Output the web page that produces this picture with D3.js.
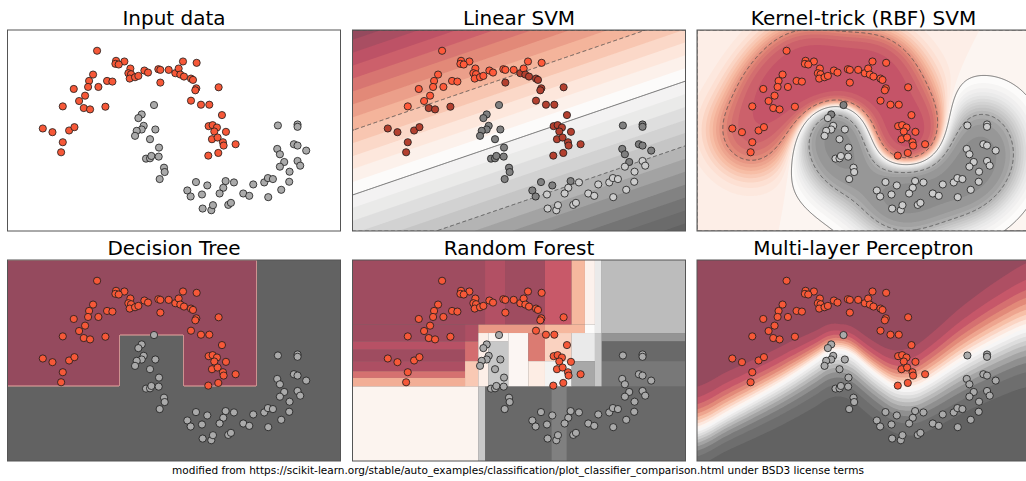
<!DOCTYPE html>
<html lang="en">
<head>
<meta charset="utf-8">
<title>Classifier comparison</title>
<script src="https://cdnjs.cloudflare.com/ajax/libs/d3/7.8.5/d3.min.js"></script>
<style>
body { margin: 0; background: #fff; }
text { font-family: "DejaVu Sans", sans-serif; }
</style>
</head>
<body>
<script>
// two moons, in plot units: x 0..100, y 0..60
var redX = [26.9,32.6,35.1,32.4,33.4,36.9,36.3,37.1,36.7,38.3,39.3,41.1,42.2,45.3,45.9,48.4,50.4,51.4,52.7,56.8,51.9,53.0,55.1,55.7,45.9,25.7,24.5,24.2,27.3,29.9,31.5,19.9,23.3,21.5,16.6,22.9,24.8,29.4,10.6,13.5,18.5,20.1,16.6,16.1,56.7,56.4,63.4,55.1,58.1,60.6,64.4,60.4,61.6,62.9,62.1,65.6,61.4,63.1,64.7,64.9,68.5,60.3,63.3];
var redY = [53.8,50.8,50.6,49.9,49.7,48.5,47.1,46.8,45.5,45.9,46.3,47.9,47.3,48.3,48.1,48.1,47.1,48.5,50.6,50.2,46.7,46.1,45.5,45.1,44.3,46.7,44.8,43.0,43.0,44.8,44.6,42.4,40.4,38.8,37.2,36.7,36.3,37.1,30.6,29.5,30.0,31.0,26.5,23.5,42.6,42.0,42.9,38.9,37.7,37.7,34.6,31.3,31.6,30.9,29.7,29.6,27.4,27.9,26.5,25.5,25.9,22.5,23.3];
var greyX = [44.0,40.3,39.3,40.9,40.3,38.8,38.3,44.4,42.8,45.5,41.6,42.8,43.2,45.4,47.0,47.2,45.7,56.6,60.0,54.0,55.0,58.4,65.5,68.0,64.8,63.7,58.6,61.2,61.7,66.3,67.1,70.8,72.6,73.8,77.1,78.2,79.7,78.3,82.2,84.6,84.7,83.1,81.8,81.0,81.8,87.1,87.9,86.0,87.1,89.7,81.2,87.1,87.1];
var greyY = [37.6,34.8,33.7,31.4,30.3,29.9,28.4,30.3,27.4,24.9,21.6,21.7,22.4,22.2,18.9,17.6,15.5,14.6,13.6,12.1,10.3,10.9,14.9,14.5,12.9,11.2,6.7,6.2,7.7,7.8,8.4,11.2,10.5,13.9,14.5,15.8,15.5,10.1,12.3,14.7,17.7,20.6,19.2,24.5,22.9,20.9,19.5,25.9,25.5,24.0,31.5,31.8,31.1];

var titles = ["Input data", "Linear SVM", "Kernel-trick (RBF) SVM", "Decision Tree", "Random Forest", "Multi-layer Perceptron"];
var footer = "modified from https://scikit-learn.org/stable/auto_examples/classification/plot_classifier_comparison.html under BSD3 license terms";

// colour map, 0 = grey class, 1 = red class
var cmapStops = [0, 0.1, 0.2, 0.3, 0.4, 0.5, 0.6, 0.7, 0.8, 0.9, 1];
var cmapColors = ["#626262", "#787878", "#a0a0a0", "#c8c8c8", "#e6e6e6", "#fcfbfa", "#fde3d6", "#f6b89e", "#e08575", "#c55468", "#954a5e"];

// linear svm: boundary y = a + b*x, margin half-width
var linA = 10.75, linB = 0.34, linMargin = 19.3;
// rbf svm
var rbfSigma = 7, rbfScale = 0.32, rbfBias = 0.1, rbfCapRed = 1.35, rbfCapGrey = 1.45;
var rbfColorExtent = [-1.91, 1.82];

// decision tree leaves predicted red [x0, x1, y0, y1]
var treeLeaves = [
  [0, 33.6, 22.3, 60],
  [33.6, 52.8, 37.7, 60],
  [52.8, 74.8, 22.3, 60]
];

// random forest, painted in order [x0, x1, y0, y1, p(red)]
var forestLeaves = [
  [0,100,0,60,0.03],
  [0,37.8,0,22.3,0.53],
  [37.8,39.8,0,22.3,0.3],
  [59.8,64.3,0,22.3,0.12],
  [0,39.8,40.7,60,0.98],
  [39.8,45.8,40.7,60,0.94],
  [45.8,57.8,40.7,60,0.98],
  [57.8,65.8,40.7,60,0.89],
  [65.8,69.8,40.7,60,0.7],
  [69.8,72.8,40.7,60,0.54],
  [72.8,74.8,38.2,60,0.42],
  [74.8,100,38.2,60,0.27],
  [74.8,100,35.7,38.2,0.17],
  [74.8,100,29.8,35.7,0.03],
  [74.8,100,22.3,29.8,0.1],
  [0,33.8,35.7,40.7,0.98],
  [0,33.8,33.2,35.7,0.93],
  [0,33.8,29.8,33.2,0.98],
  [0,33.8,26.8,29.8,0.95],
  [0,33.8,24.8,26.8,0.84],
  [0,33.8,22.3,24.8,0.72],
  [33.8,37.8,35.7,40.7,0.95],
  [33.8,37.8,29.8,35.7,0.85],
  [33.8,37.8,22.3,29.8,0.66],
  [37.8,57.8,38.2,40.7,0.76],
  [57.8,69.8,38.2,40.7,0.7],
  [69.8,72.8,38.2,40.7,0.5],
  [37.8,40.8,22.3,38.2,0.55],
  [40.8,46.8,22.3,35.7,0.3],
  [40.8,46.8,35.7,38.2,0.52],
  [46.8,52.8,22.3,38.2,0.52],
  [52.8,57.8,29.8,38.2,0.82],
  [52.8,57.8,22.3,29.8,0.56],
  [57.8,65.8,29.8,38.2,0.64],
  [57.8,65.8,22.3,29.8,0.46],
  [65.8,72.8,29.8,38.2,0.42],
  [65.8,72.8,22.3,29.8,0.22],
  [72.8,74.8,22.3,38.2,0.3]
];

// mlp: boundary curve and widths of the red / grey transition
var mlpKnotX = [0, 7.8, 17.8, 27.9, 35.9, 43, 49.9, 55.9, 62.5, 69.9, 78, 88, 100];
var mlpMidY = [8.6, 13.4, 18.8, 24.6, 30.2, 35.0, 29.0, 23.8, 20.2, 23.6, 29.3, 34.8, 40.5];
var mlpUpW = [13, 13, 12, 11, 9, 8, 9, 10, 12, 14, 16, 18, 20];
var mlpDownW = [11, 11, 12, 13, 14, 14, 14, 14, 14, 15, 16, 17, 18];

var W = 1026, H = 481;
var panelW = 333, panelH = 201;
var colX = [7.5, 352.5, 697];
var rowY = [30, 260];
var xDomain = [0, 100], yDomain = [0, 60];
var gridN = 333, gridM = 201;

var cmap = d3.scaleLinear().domain(cmapStops).range(cmapColors).clamp(true);

var svg = d3.select("body").append("svg").attr("width", W).attr("height", H);

var redPts = redX.map(function(x, i) { return {x: x, y: redY[i], c: 1}; });
var greyPts = greyX.map(function(x, i) { return {x: x, y: greyY[i], c: -1}; });
var allPts = redPts.concat(greyPts);

function makePanel(k) {
  var px = colX[k % 3], py = rowY[Math.floor(k / 3)];
  var xs = d3.scaleLinear().domain(xDomain).range([px, px + panelW]);
  var ys = d3.scaleLinear().domain(yDomain).range([py + panelH, py]);
  svg.append("clipPath").attr("id", "clip" + k)
    .append("rect").attr("x", px).attr("y", py).attr("width", panelW).attr("height", panelH);
  var g = svg.append("g").attr("clip-path", "url(#clip" + k + ")");
  return {g: g, xs: xs, ys: ys, px: px, py: py, k: k};
}

function sampleGrid(fn) {
  var values = new Float64Array(gridN * gridM);
  for (var j = 0; j < gridM; j++) {
    var y = yDomain[1] - (j + 0.5) / gridM * (yDomain[1] - yDomain[0]);
    for (var i = 0; i < gridN; i++) {
      var x = xDomain[0] + (i + 0.5) / gridN * (xDomain[1] - xDomain[0]);
      values[i + j * gridN] = fn(x, y);
    }
  }
  return values;
}

function gridPath(p) {
  return d3.geoPath(d3.geoTransform({
    point: function(x, y) {
      this.stream.point(
        p.xs(xDomain[0] + x / gridN * (xDomain[1] - xDomain[0])),
        p.ys(yDomain[1] - y / gridM * (yDomain[1] - yDomain[0])));
    }
  }));
}

function backRect(p, color) {
  p.g.append("rect")
    .attr("x", p.px).attr("y", p.py).attr("width", panelW).attr("height", panelH)
    .attr("fill", color);
}

// filled contours like contourf
function drawField(p, values, lo, hi, step, colorExtent) {
  var nb = Math.round((hi - lo) / step);
  var levels = d3.range(nb + 1).map(function(i) { return lo + i * step; });
  var mids = d3.range(nb).map(function(i) { return lo + (i + 0.5) * step; });
  var tScale = d3.scaleLinear().domain(colorExtent || [mids[0], mids[nb - 1]]).range([0, 1]);
  backRect(p, cmap(tScale(mids[0])));
  var cs = d3.contours().size([gridN, gridM]).thresholds(levels.slice(1, -1))(values);
  p.g.selectAll(null).data(cs).enter().append("path")
    .attr("d", gridPath(p))
    .attr("fill", function(d, i) { return cmap(tScale(mids[i + 1])); });
}

function drawDecisionField(p, values, colorExtent) {
  var ext = d3.extent(values);
  var step = d3.tickStep(ext[0], ext[1], 20);
  var lo = Math.floor(ext[0] / step) * step, hi = Math.ceil(ext[1] / step) * step;
  drawField(p, values, lo, hi, step, colorExtent);
  var ls = d3.contours().size([gridN, gridM]).thresholds([-1, 0, 1])(values);
  p.g.selectAll(null).data(ls).enter().append("path")
    .attr("d", gridPath(p))
    .attr("fill", "none")
    .attr("stroke", "#4a4a4a")
    .attr("stroke-opacity", 0.75)
    .attr("stroke-width", 1)
    .attr("stroke-dasharray", function(d) { return d.value === 0 ? null : "4,2.5"; });
}

function drawLeaves(p, leaves) {
  p.g.selectAll(null).data(leaves).enter().append("rect")
    .attr("x", function(d) { return p.xs(d[0]); })
    .attr("y", function(d) { return p.ys(d[3]); })
    .attr("width", function(d) { return p.xs(d[1]) - p.xs(d[0]); })
    .attr("height", function(d) { return p.ys(d[2]) - p.ys(d[3]); })
    .attr("fill", function(d) { return cmap(d[4]); });
}

function drawPoints(p, fillFn) {
  p.g.selectAll(null).data(allPts).enter().append("circle")
    .attr("cx", function(d) { return p.xs(d.x); })
    .attr("cy", function(d) { return p.ys(d.y); })
    .attr("r", 3.6)
    .attr("fill", fillFn)
    .attr("stroke", "#1a1a1a")
    .attr("stroke-width", 0.8);
}

function plainFill(d) { return d.c > 0 ? "#f65838" : "#aaaaaa"; }
function svFill(fn) {
  return function(d) {
    var sv = d.c * fn(d.x, d.y) < 1;
    if (d.c > 0) return sv ? "#b3402f" : "#ff5a3a";
    return sv ? "#808080" : "#cccccc";
  };
}

// decision functions
function linearF(x, y) { return (y - linA - linB * x) / linMargin; }
function rbfF(x, y) {
  var s = 0, q = 2 * rbfSigma * rbfSigma;
  for (var i = 0; i < allPts.length; i++) {
    var dx = x - allPts[i].x, dy = y - allPts[i].y;
    s += allPts[i].c * Math.exp(-(dx * dx + dy * dy) / q);
  }
  s *= rbfScale;
  var cap = s > 0 ? rbfCapRed : rbfCapGrey;
  return rbfBias + cap * Math.tanh(s / cap);
}
function treeP(x, y) {
  return treeLeaves.some(function(d) { return x >= d[0] && x < d[1] && y >= d[2] && y < d[3]; }) ? 1 : 0;
}
var mlpMid = d3.scaleLinear().domain(mlpKnotX).range(mlpMidY).clamp(true);
var mlpUp = d3.scaleLinear().domain(mlpKnotX).range(mlpUpW).clamp(true);
var mlpDown = d3.scaleLinear().domain(mlpKnotX).range(mlpDownW).clamp(true);
function mlpMidSmooth(x) {
  return d3.mean(d3.range(-5, 5.01, 0.5), function(k) { return mlpMid(x + k); });
}
function mlpP(x, y) {
  var d = y - mlpMidSmooth(x);
  var z = d > 0 ? 3 * d / mlpUp(x) : 3 * d / mlpDown(x);
  return 1 / (1 + Math.exp(-z));
}

var panels = d3.range(6).map(makePanel);

// 0 input data
backRect(panels[0], "#fff");
drawPoints(panels[0], plainFill);

// 1 linear svm
drawDecisionField(panels[1], sampleGrid(linearF));
drawPoints(panels[1], svFill(linearF));

// 2 rbf svm
drawDecisionField(panels[2], sampleGrid(rbfF), rbfColorExtent);
drawPoints(panels[2], svFill(rbfF));

// 3 decision tree
backRect(panels[3], cmap(0));
panels[3].g.selectAll(null)
  .data(d3.contours().size([gridN, gridM]).thresholds([0.5])(sampleGrid(treeP)))
  .enter().append("path")
  .attr("d", gridPath(panels[3]))
  .attr("fill", cmap(1))
  .attr("stroke", "#e9a7a0")
  .attr("stroke-width", 1);
drawPoints(panels[3], plainFill);

// 4 random forest
drawLeaves(panels[4], forestLeaves);
drawPoints(panels[4], plainFill);

// 5 mlp
drawField(panels[5], sampleGrid(mlpP), 0, 1, 0.05);
drawPoints(panels[5], plainFill);

// frames and titles
panels.forEach(function(p, k) {
  svg.append("rect")
    .attr("x", p.px).attr("y", p.py).attr("width", panelW).attr("height", panelH)
    .attr("fill", "none").attr("stroke", "#555").attr("stroke-width", 1);
  svg.append("text")
    .attr("x", p.px + panelW / 2).attr("y", p.py - 5)
    .attr("text-anchor", "middle")
    .attr("font-size", "20px")
    .attr("fill", "#000")
    .text(titles[k]);
});

svg.append("text")
  .attr("x", 518).attr("y", 474)
  .attr("text-anchor", "middle")
  .attr("font-size", "10.5px")
  .attr("fill", "#000")
  .text(footer);
</script>
</body>
</html>
